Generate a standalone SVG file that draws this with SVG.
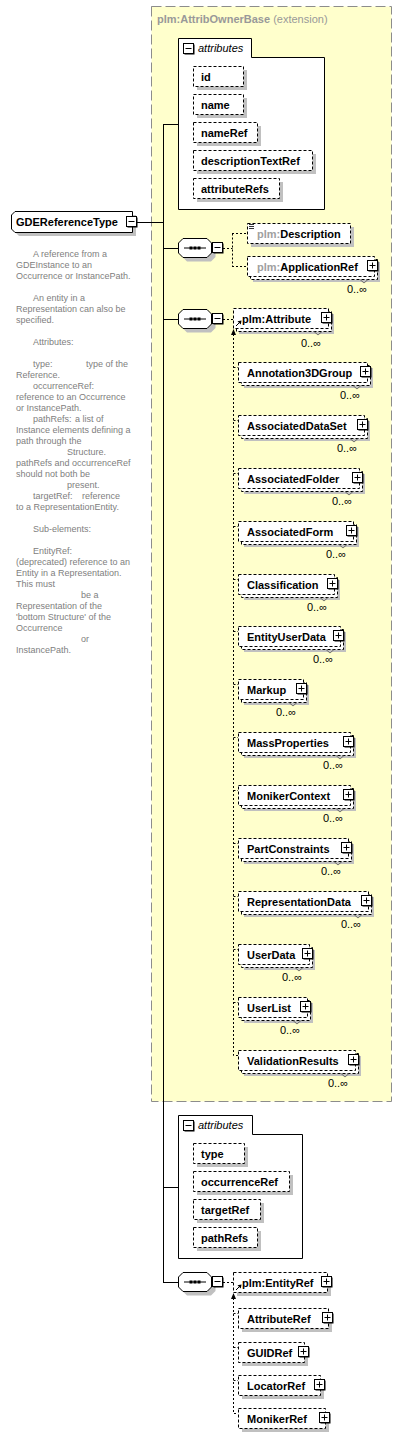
<svg xmlns="http://www.w3.org/2000/svg" xmlns:xlink="http://www.w3.org/1999/xlink" width="403" height="1437" viewBox="0 0 403 1437">
<style>
text { font-family: "Liberation Sans", Arial, sans-serif; }
.b { font-weight: bold; font-size: 11px; fill: #000; }
.g { fill: #a0a0a0; }
.occ { font-size: 11px; fill: #000; text-anchor: end; }
.desc { font-size: 9px; fill: #808080; }
.it { font-style: italic; font-size: 11px; fill: #000; }
.bx { fill: #fff; stroke: #000; stroke-dasharray: 3,2; }
.sh { fill: #c0c0c0; }
.ln { stroke: #000; fill: none; }
.dl { stroke: #000; fill: none; stroke-dasharray: 2,2; }
.tk { stroke: #555; fill: none; stroke-width: 0.8; }
.ct { fill: #fff; stroke: #000; }
</style>
<defs>
<g id="plus"><rect x="1.5" y="1.5" width="10" height="10" fill="#000"/><rect x="0.5" y="0.5" width="10" height="10" fill="#fff" stroke="#000"/><path d="M2.5,5.5H8.5M5.5,2.5V8.5" stroke="#000"/></g>
<g id="minus"><rect x="1.5" y="1.5" width="10" height="10" fill="#000"/><rect x="0.5" y="0.5" width="10" height="10" fill="#fff" stroke="#000"/><path d="M2.5,5.5H8.5" stroke="#000"/></g>
<g id="seq">
<path d="M9,4.5 H33 L37.5,9 V19 L33,23.5 H9 L4.5,19 V9 Z" fill="#c0c0c0"/>
<path d="M5,0.5 H29 L33.5,5 V15 L29,19.5 H5 L0.5,15 V5 Z" fill="#fff" stroke="#000"/>
<path d="M6,10 H28" stroke="#000"/>
<rect x="11.5" y="8.5" width="3" height="3" fill="#000"/><rect x="15.5" y="8.5" width="3" height="3" fill="#000"/><rect x="19.5" y="8.5" width="3" height="3" fill="#000"/>
<use xlink:href="#minus" x="34" y="4"/>
</g>
</defs>
<rect x="0" y="0" width="403" height="1437" fill="#fff"/>

<g id="ext">
<rect x="151.5" y="6.5" width="240" height="1095" fill="#ffffcc" stroke="#8c8c8c" stroke-dasharray="10,4"/>
<text x="157" y="23" font-size="11px" fill="#999"><tspan font-weight="bold">plm:AttribOwnerBase</tspan> (extension)</text>
</g>

<g id="connectors">
<path class="ln" d="M137,222.5 H163.5 M163.5,124 V1282.5 M163,124.5 H178 M163,248.5 H178 M163,319.5 H178 M163,1187.5 H178 M163,1282.5 H178"/>
<path class="dl" d="M223,248.5 H232.5 M232.5,233.5 V266.5 M232,233.5 H247 M232,266.5 H247"/>
<path class="dl" d="M223,319.5 H233"/>
<path class="dl" d="M233.5,334 V1055.5 H238 M233.5,367.5 H238 M233.5,420.5 H238 M233.5,473.5 H238 M233.5,526.5 H238 M233.5,579.5 H238 M233.5,631.5 H238 M233.5,684.5 H238 M233.5,737.5 H238 M233.5,790.5 H238 M233.5,843.5 H238 M233.5,896.5 H238 M233.5,949.5 H238 M233.5,1002.5 H238"/>
<polygon points="233.5,329 231,335 236,335" fill="#000"/>
<path class="dl" d="M223,1282.5 H233"/>
<path class="dl" d="M233.5,1298 V1413.5 H238 M233.5,1313.5 H238 M233.5,1347.5 H238 M233.5,1380.5 H238"/>
<polygon points="233.5,1293 231,1299 236,1299" fill="#000"/>
</g>

<g id="GDEReferenceType">
<path d="M19,215 H136 V236 H19 L15,232 V219 Z" fill="#c0c0c0"/>
<path d="M15,211.5 H132.5 V232.5 H15 L11.5,229 V215 Z" fill="#fff" stroke="#000"/>
<text class="b" x="16" y="225.5">GDEReferenceType</text>
<use xlink:href="#minus" x="126" y="216"/>
</g>

<g id="description">
<text class="desc">
<tspan x="33" y="257">A reference from a</tspan>
<tspan x="16" y="268">GDEInstance to an</tspan>
<tspan x="16" y="279">Occurrence or InstancePath.</tspan>
<tspan x="33" y="301">An entity in a</tspan>
<tspan x="16" y="312">Representation can also be</tspan>
<tspan x="16" y="323">specified.</tspan>
<tspan x="33" y="345">Attributes:</tspan>
<tspan x="33" y="367">type:</tspan><tspan x="86" y="367">type of the</tspan>
<tspan x="16" y="378">Reference.</tspan>
<tspan x="33" y="389">occurrenceRef:</tspan>
<tspan x="16" y="400">reference to an Occurrence</tspan>
<tspan x="16" y="411">or InstancePath.</tspan>
<tspan x="33" y="422">pathRefs:</tspan><tspan x="75" y="422">a list of</tspan>
<tspan x="16" y="433">Instance elements defining a</tspan>
<tspan x="16" y="444">path through the</tspan>
<tspan x="67" y="455">Structure.</tspan>
<tspan x="16" y="466">pathRefs and occurrenceRef</tspan>
<tspan x="16" y="477">should not both be</tspan>
<tspan x="67" y="488">present.</tspan>
<tspan x="33" y="499">targetRef:</tspan><tspan x="82" y="499">reference</tspan>
<tspan x="16" y="510">to a RepresentationEntity.</tspan>
<tspan x="33" y="532">Sub-elements:</tspan>
<tspan x="33" y="554">EntityRef:</tspan>
<tspan x="16" y="565">(deprecated) reference to an</tspan>
<tspan x="16" y="576">Entity in a Representation.</tspan>
<tspan x="16" y="587">This must</tspan>
<tspan x="81" y="598">be a</tspan>
<tspan x="16" y="609">Representation of the</tspan>
<tspan x="16" y="620">'bottom Structure' of the</tspan>
<tspan x="16" y="631">Occurrence</tspan>
<tspan x="81" y="642">or</tspan>
<tspan x="16" y="653">InstancePath.</tspan>
</text>
</g>

<g id="attributes1">
<path class="ct" d="M178.5,209.5 V38.5 H251.5 V57.5 H324.5 V209.5 Z"/>
<use xlink:href="#minus" x="183" y="43"/>
<text class="it" x="198" y="52">attributes</text>
<g id="attr-id"><rect class="sh" x="197" y="70" width="50" height="20"/><rect class="bx" x="193.5" y="66.5" width="50" height="20"/><text class="b" x="201" y="80.5">id</text></g>
<g id="attr-name"><rect class="sh" x="197" y="98" width="50" height="20"/><rect class="bx" x="193.5" y="94.5" width="50" height="20"/><text class="b" x="201" y="108.5">name</text></g>
<g id="attr-nameRef"><rect class="sh" x="197" y="126" width="64" height="20"/><rect class="bx" x="193.5" y="122.5" width="64" height="20"/><text class="b" x="201" y="136.5">nameRef</text></g>
<g id="attr-descriptionTextRef"><rect class="sh" x="197" y="154" width="119" height="20"/><rect class="bx" x="193.5" y="150.5" width="119" height="20"/><text class="b" x="201" y="164.5">descriptionTextRef</text></g>
<g id="attr-attributeRefs"><rect class="sh" x="197" y="182" width="86" height="20"/><rect class="bx" x="193.5" y="178.5" width="86" height="20"/><text class="b" x="201" y="192.5">attributeRefs</text></g>
</g>

<g id="seq1"><use xlink:href="#seq" x="178" y="238"/></g>

<g id="plm-Description">
<rect class="sh" x="251" y="227" width="103" height="20"/>
<rect class="bx" x="247.5" y="223.5" width="103" height="20"/>
<path d="M249,224.5H254M249,226.5H254M249,228.5H254" stroke="#000" stroke-width="0.8"/>
<text class="b" x="257" y="237.5"><tspan class="g">plm:</tspan>Description</text>
</g>

<g id="plm-ApplicationRef">
<rect class="sh" x="253" y="262" width="127" height="20"/>
<rect class="bx" x="250.5" y="259.5" width="127" height="20"/>
<rect class="bx" x="247.5" y="256.5" width="127" height="20"/>
<text class="b" x="257" y="270.5"><tspan class="g">plm:</tspan>ApplicationRef</text>
<use xlink:href="#plus" x="367" y="260"/>
<path class="tk" d="M360,279.5 L364,283 L368,279.5"/>
<text class="occ" x="367" y="293">0..∞</text>
</g>

<g id="seq2"><use xlink:href="#seq" x="178" y="309"/></g>

<g id="plm-Attribute">
<rect class="sh" x="239" y="314" width="95" height="20"/>
<rect class="bx" x="236.5" y="311.5" width="95" height="20"/>
<rect class="bx" x="233.5" y="308.5" width="95" height="20"/>
<text class="b" x="242" y="322.5">plm:Attribute</text>
<use xlink:href="#plus" x="321" y="312"/>
<path d="M236,326 L239.5,322.5" stroke="#000"/><polygon points="241.5,320.5 237.5,321.2 240.8,324.5" fill="#000"/>
<path class="tk" d="M314,331.5 L318,335 L322,331.5"/>
<text class="occ" x="321" y="347">0..∞</text>
</g>

<g id="Annotation3DGroup">
<rect class="sh" x="244" y="368" width="129" height="20"/>
<rect class="bx" x="241.5" y="365.5" width="129" height="20"/>
<rect class="bx" x="238.5" y="362.5" width="129" height="20"/>
<text class="b" x="247" y="376.5">Annotation3DGroup</text>
<use xlink:href="#plus" x="360" y="366"/>
<path class="tk" d="M353,385.5 L357,389 L361,385.5"/>
<text class="occ" x="360" y="399">0..∞</text>
</g>

<g id="AssociatedDataSet">
<rect class="sh" x="244" y="421" width="126" height="20"/>
<rect class="bx" x="241.5" y="418.5" width="126" height="20"/>
<rect class="bx" x="238.5" y="415.5" width="126" height="20"/>
<text class="b" x="247" y="429.5">AssociatedDataSet</text>
<use xlink:href="#plus" x="357" y="419"/>
<path class="tk" d="M350,438.5 L354,442 L358,438.5"/>
<text class="occ" x="357" y="452">0..∞</text>
</g>

<g id="AssociatedFolder">
<rect class="sh" x="244" y="474" width="121" height="20"/>
<rect class="bx" x="241.5" y="471.5" width="121" height="20"/>
<rect class="bx" x="238.5" y="468.5" width="121" height="20"/>
<text class="b" x="247" y="482.5">AssociatedFolder</text>
<use xlink:href="#plus" x="352" y="472"/>
<path class="tk" d="M345,491.5 L349,495 L353,491.5"/>
<text class="occ" x="352" y="505">0..∞</text>
</g>

<g id="AssociatedForm">
<rect class="sh" x="244" y="527" width="115" height="20"/>
<rect class="bx" x="241.5" y="524.5" width="115" height="20"/>
<rect class="bx" x="238.5" y="521.5" width="115" height="20"/>
<text class="b" x="247" y="535.5">AssociatedForm</text>
<use xlink:href="#plus" x="346" y="525"/>
<path class="tk" d="M339,544.5 L343,548 L347,544.5"/>
<text class="occ" x="346" y="558">0..∞</text>
</g>

<g id="Classification">
<rect class="sh" x="244" y="580" width="96" height="20"/>
<rect class="bx" x="241.5" y="577.5" width="96" height="20"/>
<rect class="bx" x="238.5" y="574.5" width="96" height="20"/>
<text class="b" x="247" y="588.5">Classification</text>
<use xlink:href="#plus" x="327" y="578"/>
<path class="tk" d="M320,597.5 L324,601 L328,597.5"/>
<text class="occ" x="327" y="611">0..∞</text>
</g>

<g id="EntityUserData">
<rect class="sh" x="244" y="632" width="102" height="20"/>
<rect class="bx" x="241.5" y="629.5" width="102" height="20"/>
<rect class="bx" x="238.5" y="626.5" width="102" height="20"/>
<text class="b" x="247" y="640.5">EntityUserData</text>
<use xlink:href="#plus" x="333" y="630"/>
<path class="tk" d="M326,649.5 L330,653 L334,649.5"/>
<text class="occ" x="333" y="663">0..∞</text>
</g>

<g id="Markup">
<rect class="sh" x="244" y="685" width="65" height="20"/>
<rect class="bx" x="241.5" y="682.5" width="65" height="20"/>
<rect class="bx" x="238.5" y="679.5" width="65" height="20"/>
<text class="b" x="247" y="693.5">Markup</text>
<use xlink:href="#plus" x="296" y="683"/>
<path class="tk" d="M289,702.5 L293,706 L297,702.5"/>
<text class="occ" x="296" y="716">0..∞</text>
</g>

<g id="MassProperties">
<rect class="sh" x="244" y="738" width="112" height="20"/>
<rect class="bx" x="241.5" y="735.5" width="112" height="20"/>
<rect class="bx" x="238.5" y="732.5" width="112" height="20"/>
<text class="b" x="247" y="746.5">MassProperties</text>
<use xlink:href="#plus" x="343" y="736"/>
<path class="tk" d="M336,755.5 L340,759 L344,755.5"/>
<text class="occ" x="343" y="769">0..∞</text>
</g>

<g id="MonikerContext">
<rect class="sh" x="244" y="791" width="112" height="20"/>
<rect class="bx" x="241.5" y="788.5" width="112" height="20"/>
<rect class="bx" x="238.5" y="785.5" width="112" height="20"/>
<text class="b" x="247" y="799.5">MonikerContext</text>
<use xlink:href="#plus" x="343" y="789"/>
<path class="tk" d="M336,808.5 L340,812 L344,808.5"/>
<text class="occ" x="343" y="822">0..∞</text>
</g>

<g id="PartConstraints">
<rect class="sh" x="244" y="844" width="110" height="20"/>
<rect class="bx" x="241.5" y="841.5" width="110" height="20"/>
<rect class="bx" x="238.5" y="838.5" width="110" height="20"/>
<text class="b" x="247" y="852.5">PartConstraints</text>
<use xlink:href="#plus" x="341" y="842"/>
<path class="tk" d="M334,861.5 L338,865 L342,861.5"/>
<text class="occ" x="341" y="875">0..∞</text>
</g>

<g id="RepresentationData">
<rect class="sh" x="244" y="897" width="130" height="20"/>
<rect class="bx" x="241.5" y="894.5" width="130" height="20"/>
<rect class="bx" x="238.5" y="891.5" width="130" height="20"/>
<text class="b" x="247" y="905.5">RepresentationData</text>
<use xlink:href="#plus" x="361" y="895"/>
<path class="tk" d="M354,914.5 L358,918 L362,914.5"/>
<text class="occ" x="361" y="928">0..∞</text>
</g>

<g id="UserData">
<rect class="sh" x="244" y="950" width="71" height="20"/>
<rect class="bx" x="241.5" y="947.5" width="71" height="20"/>
<rect class="bx" x="238.5" y="944.5" width="71" height="20"/>
<text class="b" x="247" y="958.5">UserData</text>
<use xlink:href="#plus" x="302" y="948"/>
<path class="tk" d="M295,967.5 L299,971 L303,967.5"/>
<text class="occ" x="302" y="981">0..∞</text>
</g>

<g id="UserList">
<rect class="sh" x="244" y="1003" width="69" height="20"/>
<rect class="bx" x="241.5" y="1000.5" width="69" height="20"/>
<rect class="bx" x="238.5" y="997.5" width="69" height="20"/>
<text class="b" x="247" y="1011.5">UserList</text>
<use xlink:href="#plus" x="300" y="1001"/>
<path class="tk" d="M293,1020.5 L297,1024 L301,1020.5"/>
<text class="occ" x="300" y="1034">0..∞</text>
</g>

<g id="ValidationResults">
<rect class="sh" x="244" y="1056" width="117" height="20"/>
<rect class="bx" x="241.5" y="1053.5" width="117" height="20"/>
<rect class="bx" x="238.5" y="1050.5" width="117" height="20"/>
<text class="b" x="247" y="1064.5">ValidationResults</text>
<use xlink:href="#plus" x="348" y="1054"/>
<path class="tk" d="M341,1073.5 L345,1077 L349,1073.5"/>
<text class="occ" x="348" y="1087">0..∞</text>
</g>

<g id="attributes2">
<path class="ct" d="M178.5,1258.5 V1115.5 H252.5 V1134.5 H302.5 V1258.5 Z"/>
<use xlink:href="#minus" x="183" y="1120"/>
<text class="it" x="198" y="1129">attributes</text>
<g id="attr-type"><rect class="sh" x="197" y="1147" width="51" height="20"/><rect class="bx" x="193.5" y="1143.5" width="51" height="20"/><text class="b" x="201" y="1157.5">type</text></g>
<g id="attr-occurrenceRef"><rect class="sh" x="197" y="1175" width="96" height="20"/><rect class="bx" x="193.5" y="1171.5" width="96" height="20"/><text class="b" x="201" y="1185.5">occurrenceRef</text></g>
<g id="attr-targetRef"><rect class="sh" x="197" y="1203" width="67" height="20"/><rect class="bx" x="193.5" y="1199.5" width="67" height="20"/><text class="b" x="201" y="1213.5">targetRef</text></g>
<g id="attr-pathRefs"><rect class="sh" x="197" y="1231" width="64" height="20"/><rect class="bx" x="193.5" y="1227.5" width="64" height="20"/><text class="b" x="201" y="1241.5">pathRefs</text></g>
</g>

<g id="seq3"><use xlink:href="#seq" x="178" y="1272"/></g>

<g id="plm-EntityRef">
<rect class="sh" x="237" y="1276" width="94" height="20"/>
<rect class="bx" x="233.5" y="1272.5" width="94" height="20"/>
<text class="b" x="242" y="1286.5">plm:EntityRef</text>
<use xlink:href="#plus" x="321" y="1276"/>
<path d="M236,1290 L239.5,1286.5" stroke="#000"/><polygon points="241.5,1284.5 237.5,1285.2 240.8,1288.5" fill="#000"/>
</g>

<g id="AttributeRef">
<rect class="sh" x="242" y="1312" width="90" height="20"/>
<rect class="bx" x="238.5" y="1308.5" width="90" height="20"/>
<text class="b" x="247" y="1322.5">AttributeRef</text>
<use xlink:href="#plus" x="322" y="1312"/>
</g>

<g id="GUIDRef">
<rect class="sh" x="242" y="1346" width="66" height="20"/>
<rect class="bx" x="238.5" y="1342.5" width="66" height="20"/>
<text class="b" x="247" y="1356.5">GUIDRef</text>
<use xlink:href="#plus" x="298" y="1346"/>
</g>

<g id="LocatorRef">
<rect class="sh" x="242" y="1379" width="82" height="20"/>
<rect class="bx" x="238.5" y="1375.5" width="82" height="20"/>
<text class="b" x="247" y="1389.5">LocatorRef</text>
<use xlink:href="#plus" x="314" y="1379"/>
</g>

<g id="MonikerRef">
<rect class="sh" x="242" y="1412" width="87" height="20"/>
<rect class="bx" x="238.5" y="1408.5" width="87" height="20"/>
<text class="b" x="247" y="1422.5">MonikerRef</text>
<use xlink:href="#plus" x="319" y="1412"/>
</g>
</svg>
